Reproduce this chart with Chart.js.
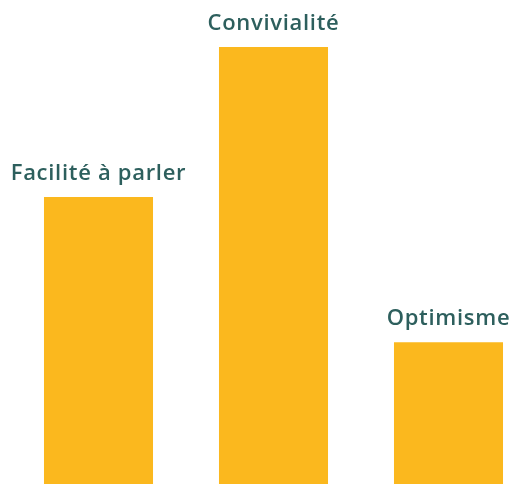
<!DOCTYPE html>
<html>
<head>
<meta charset="utf-8">
<script src="https://cdn.jsdelivr.net/npm/chart.js@4/dist/chart.umd.min.js"></script>
<style>
  html, body { margin: 0; padding: 0; background: #fff; }
  #wrap { width: 523px; height: 484px; }
</style>
</head>
<body>
<div id="wrap"><canvas id="qualitesChart"></canvas></div>
<script>
const categories = ["Facilité à parler", "Convivialité", "Optimisme"];
const valeurs = [59.3, 90.3, 29.3];

// labels au-dessus des barres
const labelsAuDessus = {
    id: "labelsAuDessus",
    afterDatasetsDraw(chart) {
        const ctx = chart.ctx;
        const meta = chart.getDatasetMeta(0);
        ctx.save();
        ctx.font = "600 22px 'Open Sans'";
        ctx.letterSpacing = "0.7px";
        ctx.fillStyle = "#2d5f5d";
        ctx.textAlign = "center";
        ctx.textBaseline = "alphabetic";
        meta.data.forEach((bar, i) => {
            ctx.fillText(categories[i], bar.x, bar.y - 17);
        });
        ctx.restore();
    }
};

let chartCanvas = document.getElementById("qualitesChart").getContext("2d");
let qualitesChart = new Chart(chartCanvas, {
    type: "bar",
    data: {
        labels: categories,
        datasets: [{
            data: valeurs,
            backgroundColor: "#fbb81e",
            borderWidth: 0,
            barPercentage: 1,
            categoryPercentage: 0.623,
            clip: false
        }]
    },
    options: {
        responsive: true,
        maintainAspectRatio: false,
        animation: false,
        layout: { padding: { left: 98.5, right: 74.5, top: 0, bottom: 0 } },
        plugins: {
            legend: { display: false },
            tooltip: { enabled: false }
        },
        scales: {
            x: { display: false, offset: false },
            y: { display: false, min: 0, max: 100 }
        }
    },
    plugins: [labelsAuDessus]
});
</script>
</body>
</html>
